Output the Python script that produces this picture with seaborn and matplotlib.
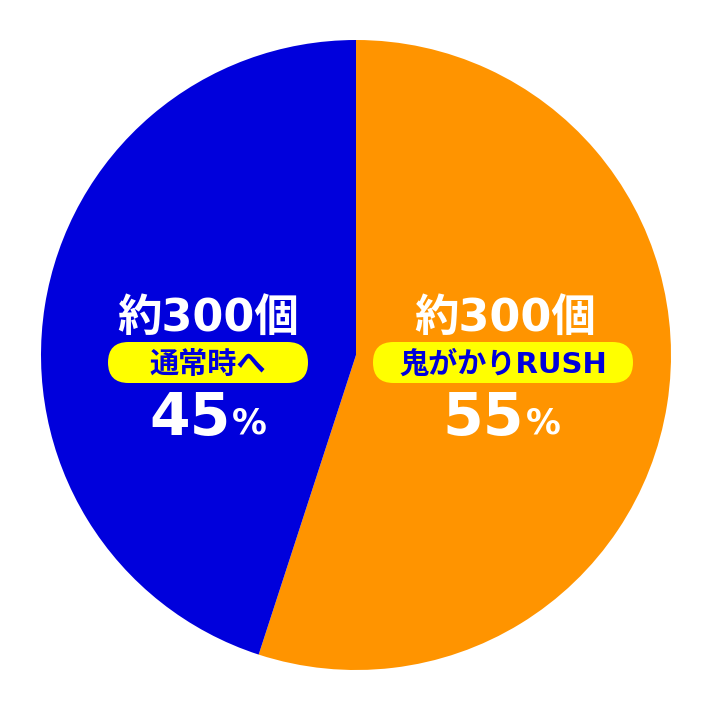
import matplotlib
matplotlib.use("Agg")
import matplotlib.pyplot as plt
from matplotlib.patches import FancyBboxPatch
import seaborn as sns

# data
modes = ["鬼がかりRUSH", "通常時へ"]
shares = [55, 45]
counts = ["約300個", "約300個"]
colors = ["#FF9400", "#0000DC"]

sns.set_style("white")
plt.rcParams["font.family"] = ["DejaVu Sans", "Noto Sans CJK JP"]

W, H = 712, 710
cx, cy, r = 356, 355, 315

def px(x, y):
    # pixel -> data coords (pie radius 1)
    return (x - cx) / r, (cy - y) / r

fig = plt.figure(figsize=(W / 100, H / 100), dpi=100)
ax = fig.add_axes([0, 0, 1, 1])
ax.pie(shares, colors=colors, startangle=90, counterclock=False,
       radius=1, wedgeprops=dict(linewidth=0))
x0, y1 = px(0, 0)
x1, y0 = px(W, H)
ax.set_xlim(x0, x1)
ax.set_ylim(y0, y1)
ax.set_aspect("auto")
ax.axis("off")

# label layout (pixel positions of each label block)
blocks = [
    dict(cx=505, box=(373, 342, 633, 383), num_right=524, pct_left=526),
    dict(cx=208, box=(108, 342, 308, 383), num_right=231, pct_left=232),
]

for mode, share, cnt, b in zip(modes, shares, counts, blocks):
    ax.text(*px(b["cx"], 331), cnt, ha="center", va="baseline",
            color="white", fontsize=32, fontweight="bold")
    bx0, by0, bx1, by1 = b["box"]
    lx, ly = px(bx0, by1)
    rx, ty = px(bx1, by0)
    rad = (ty - ly) / 2
    ax.add_patch(FancyBboxPatch((lx, ly), rx - lx, ty - ly,
                                boxstyle=f"round,pad=0,rounding_size={rad}",
                                facecolor="#FFFF00", edgecolor="none"))
    ax.text(*px((bx0 + bx1) / 2, 373), mode, ha="center", va="baseline",
            color="#0000DC", fontsize=21, fontweight="bold")
    ax.text(*px(b["num_right"], 435), str(share), ha="right", va="baseline",
            color="white", fontsize=42, fontweight="bold")
    ax.text(*px(b["pct_left"], 434), "%", ha="left", va="baseline",
            color="white", fontsize=25, fontweight="bold")

fig.savefig("out.png", dpi=100, facecolor="white")
